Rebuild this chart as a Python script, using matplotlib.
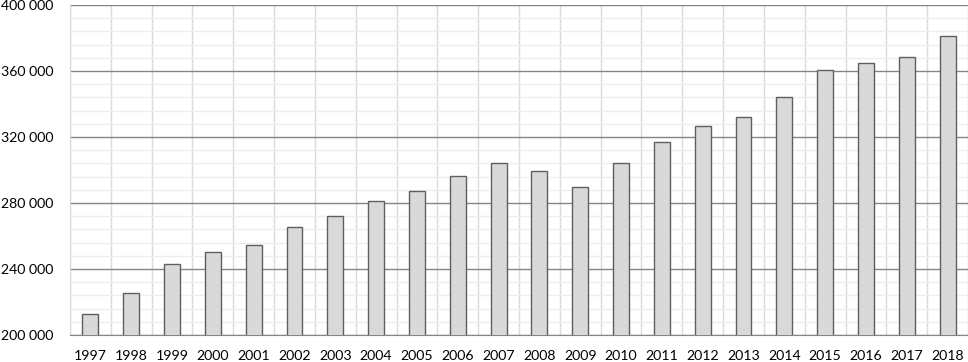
import numpy as np
import matplotlib.pyplot as plt
from matplotlib.ticker import MultipleLocator, FuncFormatter

years = [str(y) for y in range(1997, 2019)]
values = [212500, 225600, 243000, 250300, 254800, 265300, 271900, 281400,
          287500, 296200, 304200, 299400, 289700, 304200, 316800, 326500,
          332300, 344000, 360400, 364800, 368700, 381200]

plt.rcParams['font.family'] = ['Lato', 'DejaVu Sans']

fig = plt.figure(figsize=(9.68, 3.62), dpi=100)
ax = fig.add_axes([70 / 968, 1 - 335 / 362, 898 / 968, 330 / 362])

x = np.arange(len(years))
ax.bar(x, values, width=0.39, color='#d9d9d9', edgecolor='#5f5f5f', linewidth=1.0, zorder=3)

ax.set_xlim(-0.5, len(years) - 0.5)
ax.set_ylim(200000, 400000)
ax.set_xticks(x)
ax.set_xticklabels(years)
ax.set_xticks(np.arange(len(years) + 1) - 0.5, minor=True)
ax.yaxis.set_major_locator(MultipleLocator(40000))
ax.yaxis.set_minor_locator(MultipleLocator(8000))
ax.yaxis.set_major_formatter(FuncFormatter(lambda v, p: f'{int(v):,}'.replace(',', ' ')))

ax.set_axisbelow(True)
ax.grid(axis='y', which='major', color='#858585', linewidth=1.0)
ax.grid(axis='y', which='minor', color='#eeeeee', linewidth=1.0)
ax.grid(axis='x', which='minor', color='#d9d9d9', linewidth=1.0)
ax.grid(axis='x', which='major', visible=False)

ax.tick_params(axis='both', which='both', length=0, labelsize=10.2, colors='#000000')
ax.tick_params(axis='y', pad=12)
ax.tick_params(axis='x', pad=10.5)

for s in ['top', 'right']:
    ax.spines[s].set_visible(False)
ax.spines['left'].set_color('#d9d9d9')
ax.spines['bottom'].set_color('#858585')

fig.savefig('out.png', dpi=100)
